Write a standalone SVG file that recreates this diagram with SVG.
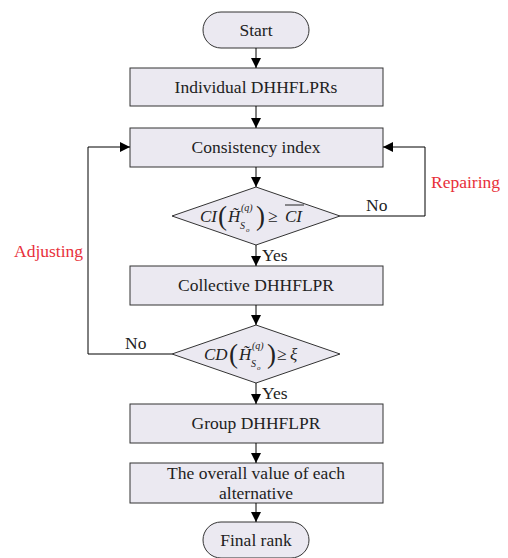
<svg xmlns="http://www.w3.org/2000/svg" width="508" height="558" viewBox="0 0 508 558">
<defs>
<marker id="ah" viewBox="0 0 10 10" refX="10" refY="5" markerWidth="10" markerHeight="10" markerUnits="userSpaceOnUse" orient="auto">
<path d="M0,0 L10,5 L0,10 z" fill="#000"/>
</marker>
<style>
.n{fill:#EBE9F1;stroke:#333;stroke-width:1}
text{font-family:'Liberation Serif','Times New Roman','DejaVu Serif',serif}
.t{font-size:17.5px;fill:#222;text-anchor:middle}
.l{font-size:17.5px;fill:#222}
.r{font-size:17.5px;fill:#E8303A}
.m{font-style:italic;fill:#222}
.p{font-size:27px;fill:#222}
.c{fill:none;stroke:#000;stroke-width:1;marker-end:url(#ah)}
</style>
</defs>
<rect width="508" height="558" fill="#fff"/>
<g id="start"><rect class="n" x="203" y="12" width="106" height="36" rx="18"/><text class="t" x="256" y="36">Start</text></g>
<g id="individual"><rect class="n" x="130" y="68" width="253" height="38"/><text class="t" x="256" y="93">Individual DHHFLPRs</text></g>
<g id="consistency"><rect class="n" x="130" y="128" width="253" height="39"/><text class="t" x="256" y="153">Consistency index</text></g>
<g id="check1"><polygon class="n" points="172,216 256,187 340,216 256,245"/>
<text class="m" font-size="17" x="200" y="222">CI</text>
<text class="p" x="218" y="225">(</text>
<text class="m" font-size="17" x="228" y="222">H̃</text>
<text class="m" font-size="10" x="241" y="211">(q)</text>
<text class="m" font-size="10" x="240" y="229">S</text>
<text class="m" font-size="7" x="246" y="232">o</text>
<text class="p" x="256" y="225">)</text>
<text class="l" x="268" y="222">≥</text>
<text class="m" font-size="17" x="285" y="222">CI</text>
<line x1="285" y1="205" x2="304" y2="205" stroke="#222" stroke-width="1"/>
</g>
<g id="collective"><rect class="n" x="130" y="266" width="253" height="39"/><text class="t" x="256" y="291">Collective DHHFLPR</text></g>
<g id="check2"><polygon class="n" points="172,354 256,325 340,354 256,383"/>
<text class="m" font-size="17" x="204" y="360">CD</text>
<text class="p" x="229" y="363">(</text>
<text class="m" font-size="17" x="239" y="360">H̃</text>
<text class="m" font-size="10" x="252" y="349">(q)</text>
<text class="m" font-size="10" x="251" y="367">S</text>
<text class="m" font-size="7" x="257" y="370">o</text>
<text class="p" x="267" y="363">)</text>
<text class="l" x="277" y="360">≥</text>
<text class="m" font-size="17" x="290" y="360">ξ</text>
</g>
<g id="group"><rect class="n" x="130" y="404" width="253" height="39"/><text class="t" x="256" y="429">Group DHHFLPR</text></g>
<g id="overall"><rect class="n" x="130" y="463" width="253" height="40"/><text class="t" x="256" y="479">The overall value of each</text><text class="t" x="256" y="499">alternative</text></g>
<g id="final"><rect class="n" x="203" y="522" width="106" height="36" rx="18"/><text class="t" x="256" y="546">Final rank</text></g>
<g id="connectors">
<line class="c" x1="256" y1="48" x2="256" y2="68"/>
<line class="c" x1="256" y1="106" x2="256" y2="128"/>
<line class="c" x1="256" y1="167" x2="256" y2="187"/>
<line class="c" x1="256" y1="245" x2="256" y2="266"/>
<line class="c" x1="256" y1="305" x2="256" y2="325"/>
<line class="c" x1="256" y1="383" x2="256" y2="404"/>
<line class="c" x1="256" y1="443" x2="256" y2="463"/>
<line class="c" x1="256" y1="503" x2="256" y2="522"/>
<polyline class="c" points="340,216 425,216 425,147 383,147"/>
<polyline class="c" points="172,354 88,354 88,147 130,147"/>
<text class="l" x="262" y="261">Yes</text>
<text class="l" x="262" y="399">Yes</text>
<text class="l" x="366" y="211">No</text>
<text class="l" x="125" y="349">No</text>
<text class="r" x="431" y="188">Repairing</text>
<text class="r" x="14" y="257">Adjusting</text>
</g>
</svg>
